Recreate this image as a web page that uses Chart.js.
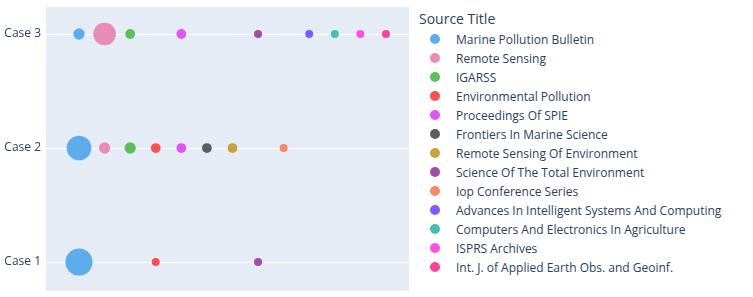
<!DOCTYPE html>
<html>
<head>
<meta charset="utf-8">
<script src="https://cdn.jsdelivr.net/npm/chart.js@4.4.1/dist/chart.umd.min.js"></script>
<style>
  body { margin: 0; background: #fff; font-family: "Open Sans", sans-serif; color: #2a3f5f; }
  #wrap { position: relative; width: 753px; height: 297px; overflow: hidden; }
  #plot { position: absolute; left: 0; top: 0; width: 418px; height: 297px; }
  #legend { position: absolute; left: 418px; top: 0; width: 335px; height: 297px; }
  #legend .title { position: absolute; left: 1px; top: 9px; font-size: 14px; line-height: 20px; white-space: nowrap; }
  #legend .row { position: absolute; left: 0; height: 19px; line-height: 19px; font-size: 12px; white-space: nowrap; }
  #legend .dot { position: absolute; left: 12px; top: 4.5px; width: 10px; height: 10px; border-radius: 50%; }
  #legend .lbl { position: absolute; left: 38px; top: 0; }
</style>
</head>
<body>
<div id="wrap">
  <div id="plot"><canvas id="bubbleChart"></canvas></div>
  <div id="legend"></div>
</div>
<script>
var cases = ['Case 1', 'Case 2', 'Case 3'];
var sources = [
    'Marine Pollution Bulletin',
    'Remote Sensing',
    'IGARSS',
    'Environmental Pollution',
    'Proceedings Of SPIE',
    'Frontiers In Marine Science',
    'Remote Sensing Of Environment',
    'Science Of The Total Environment',
    'Iop Conference Series',
    'Advances In Intelligent Systems And Computing',
    'Computers And Electronics In Agriculture',
    'ISPRS Archives',
    'Int. J. of Applied Earth Obs. and Geoinf.'
];
// number of papers per source, one array per case (null = none)
var case1Counts = [23, null, null, 2, null, null, null, 2, null, null, null, null, null];
var case2Counts = [19, 4, 4, 3, 3, 3, 3, null, 2, null, null, null, null];
var case3Counts = [4, 16, 3, null, 3, null, null, 2, null, 2, 2, 2, 2];
var colors = [
    'rgb(93, 173, 236)',
    'rgb(232, 139, 181)',
    'rgb(92, 191, 92)',
    'rgb(250, 80, 80)',
    'rgb(224, 85, 245)',
    'rgb(91, 95, 97)',
    'rgb(201, 162, 63)',
    'rgb(155, 79, 166)',
    'rgb(240, 139, 107)',
    'rgb(125, 92, 255)',
    'rgb(70, 191, 174)',
    'rgb(255, 79, 227)',
    'rgb(247, 68, 154)'
];

var countsByCase = [case1Counts, case2Counts, case3Counts];
var sizeRef = 2.83; // bubble radius per sqrt(count), area mode

var datasets = sources.map(function (src, i) {
    var pts = [];
    countsByCase.forEach(function (counts, c) {
        if (counts[i] != null) {
            pts.push({ x: i, y: c, r: Math.sqrt(counts[i]) * sizeRef, n: counts[i] });
        }
    });
    return {
        label: src,
        data: pts,
        backgroundColor: colors[i],
        borderColor: colors[i],
        borderWidth: 0,
        hoverBorderWidth: 0
    };
});

var plotBg = {
    id: 'plotBg',
    beforeDraw: function (chart) {
        var a = chart.chartArea, ctx = chart.ctx;
        ctx.save();
        ctx.fillStyle = '#E5ECF6';
        ctx.fillRect(a.left, a.top, a.right - a.left, a.bottom - a.top);
        ctx.restore();
    }
};

var chart = new Chart(document.getElementById('bubbleChart').getContext('2d'), {
    type: 'bubble',
    data: { datasets: datasets },
    plugins: [plotBg],
    options: {
        responsive: true,
        maintainAspectRatio: false,
        animation: false,
        layout: { autoPadding: false, padding: { top: 7, bottom: 6, right: 9, left: 0 } },
        plugins: {
            legend: { display: false },
            tooltip: {
                callbacks: {
                    label: function (ctx) {
                        return ctx.dataset.label + ' (' + cases[ctx.raw.y] + '): ' + ctx.raw.n;
                    }
                }
            }
        },
        scales: {
            x: {
                type: 'linear',
                display: false,
                min: -1.29,
                max: 12.9
            },
            y: {
                type: 'linear',
                min: -0.254,
                max: 2.237,
                afterFit: function (scale) {
                    scale.width = 46;
                    // labels sit well inside the range, no edge padding needed
                    scale.paddingTop = 0;
                    scale.paddingBottom = 0;
                },
                afterBuildTicks: function (scale) {
                    scale.ticks = cases.map(function (c, i) { return { value: i }; });
                },
                border: { display: false },
                grid: { color: '#ffffff', lineWidth: 1, drawTicks: false },
                ticks: {
                    padding: 5,
                    color: '#2a3f5f',
                    font: { family: 'Open Sans', size: 12 },
                    callback: function (v) { return cases[v]; }
                }
            }
        }
    }
});

// legend built from chart datasets
var legend = document.getElementById('legend');
var t = document.createElement('div');
t.className = 'title';
t.textContent = 'Source Title';
legend.appendChild(t);
chart.data.datasets.forEach(function (ds, i) {
    var row = document.createElement('div');
    row.className = 'row';
    row.style.top = (39 + 19 * i - 9.5) + 'px';
    var dot = document.createElement('span');
    dot.className = 'dot';
    dot.style.background = ds.backgroundColor;
    var lbl = document.createElement('span');
    lbl.className = 'lbl';
    lbl.textContent = ds.label;
    row.appendChild(dot);
    row.appendChild(lbl);
    legend.appendChild(row);
});
</script>
</body>
</html>
